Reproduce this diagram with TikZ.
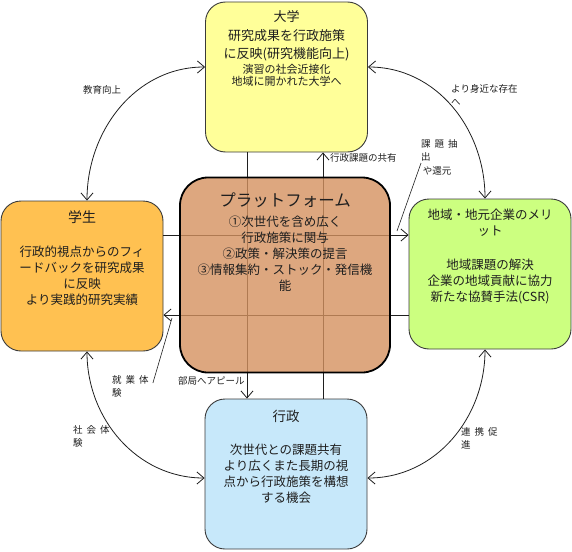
\documentclass[tikz,border=0pt]{standalone}
\usepackage{fontspec}
\setmainfont{Noto Sans CJK JP}
\usepackage{tikz}
\usetikzlibrary{arrows.meta,calc,positioning}
\definecolor{UniFill}{HTML}{FFFF99}
\definecolor{StuFill}{HTML}{FFC151}
\definecolor{RegFill}{HTML}{CCFF80}
\definecolor{GovFill}{HTML}{C7E8FA}
\definecolor{PlatFill}{HTML}{D4915F}
\definecolor{InkDark}{HTML}{1F1F1F}
\definecolor{InkSoft}{HTML}{3A3A3A}
\newcommand{\kgap}{\hspace{4pt}}
\tikzset{
  actor/.style={draw=InkSoft, line width=0.9pt, rounded corners=20pt,
                minimum width=162pt, minimum height=150pt, inner sep=0pt},
  platbox/.style={draw=black, line width=1.8pt, rounded corners=28pt, fill=PlatFill,
                  fill opacity=0.8, minimum width=210pt, minimum height=195pt, inner sep=0pt},
  boxtxt/.style={anchor=north, align=center, inner sep=0pt, text=InkDark,
                 font=\fontsize{12.5}{16}\selectfont},
  lbl/.style={anchor=north west, align=left, inner sep=0pt, text=InkDark,
              font=\fontsize{9.5}{13.5}\selectfont},
}

\begin{document}
\begin{tikzpicture}[x=1pt, y=-1pt,
  link/.style={line width=0.8pt, draw=InkDark, -{Straight Barb[length=7pt, width=12pt]}},
  ring/.style={line width=0.8pt, draw=InkDark,
               {Straight Barb[length=7pt, width=12pt]}-{Straight Barb[length=7pt, width=12pt]}},
  lead/.style={line width=0.6pt, draw=InkDark},
]
\useasboundingbox (0,0) rectangle (572,551);
% ===================== the four partners
\node[actor, fill=UniFill] (uni) at (286.5,77) {};
\node[actor, fill=StuFill] (stu) at (82,276) {};
\node[actor, fill=RegFill] (reg) at (490,274) {};
\node[actor, fill=GovFill] (gov) at (286,474) {};
% straight links through the platform
\coordinate (vL) at (247,0);
\coordinate (vR) at (323,0);
\coordinate (hT) at (0,235);
\coordinate (hB) at (0,315);
\draw[link] (uni.south -| vL) -- (gov.north -| vL);
\draw[link] (gov.north -| vR) -- (uni.south -| vR);
\draw[link] (stu.east |- hT) -- (reg.west |- hT);
\draw[link] (reg.west |- hB) -- (stu.east |- hB);
% ===================== platform (lines show through)
\node[platbox] (plat) at (285,275) {};
% outer ring of curved links
\draw[ring] ([xshift=5pt]stu.north) to[out=90, in=180] ([yshift=10pt]uni.west);
\draw[ring] ([yshift=10pt]uni.east) to[out=0, in=90] ([xshift=-5pt]reg.north);
\draw[ring] ([xshift=5pt]stu.south) to[out=-90, in=180] ([yshift=-4pt]gov.west);
\draw[ring] ([xshift=-5pt]reg.south) to[out=-90, in=0] ([yshift=-4pt]gov.east);
% ===================== box texts
\node[boxtxt, font=\fontsize{13}{18.5}\selectfont] (uniT) at ($(uni.north)+(0,9)$)
  {大学\\研究成果を行政施策\\に反映(研究機能向上)};
\node[boxtxt, font=\fontsize{11}{12}\selectfont] (uniS) at ($(uni.north)+(0,63)$)
  {演習の社会近接化\\地域に開かれた大学へ};
\node[boxtxt] (stuT) at ($(stu.north)+(0,10)$)
  {{\fontsize{14}{16}\selectfont 学生}\\[18pt]行政的視点からのフィ\\ードバックを研究成果\\に反映\\より実践的研究実績};
\node[boxtxt] (regT) at ($(reg.north)+(0,10)$)
  {地域・地元企業のメリ\\ット\\[18pt]地域課題の解決\\企業の地域貢献に協力\\新たな協賛手法(CSR)};
\node[boxtxt] (govT) at ($(gov.north)+(0,11)$)
  {{\fontsize{13.5}{16}\selectfont 行政}\\[17pt]次世代との課題共有\\より広くまた長期の視\\点から行政施策を構想\\する機会};
\node[boxtxt] (platT) at ($(plat.north)+(0,16)$)
  {{\fontsize{16.5}{18}\selectfont プラットフォーム}\\[4pt]①次世代を含め広く\\行政施策に関与\\②政策・解決策の提言\\③情報集約・ストック・発信機\\能};
% ===================== labels
\node[lbl] (edu) at (83,85) {教育向上};
\node[lbl] (near) at (451,84) {より身近な存在\\へ};
\node[lbl] (share) at (330,153) {行政課題の共有};
\node[lbl] (appeal) at (178,376) {部局へアピール};
\node[lbl] (extr) at (421,139) {課\kgap 題\kgap 抽\\出\\\,や還元};
\node[lbl] (job) at (112,375) {就\kgap 業\kgap 体\\験};
\node[lbl] (soc) at (73,425) {社\kgap 会\kgap 体\\験};
\node[lbl] (coop) at (461,427) {連\kgap 携\kgap 促\\進};
% leaders from labels to arrow heads
\coordinate (extrTip) at (397,231);
\coordinate (jobTip) at (172,318);
\draw[lead] ([yshift=-6pt]extr.west) -- (extrTip);
\draw[lead] ([shift={(4pt,-8pt)}]job.north east) -- (jobTip);
\end{tikzpicture}
\end{document}
